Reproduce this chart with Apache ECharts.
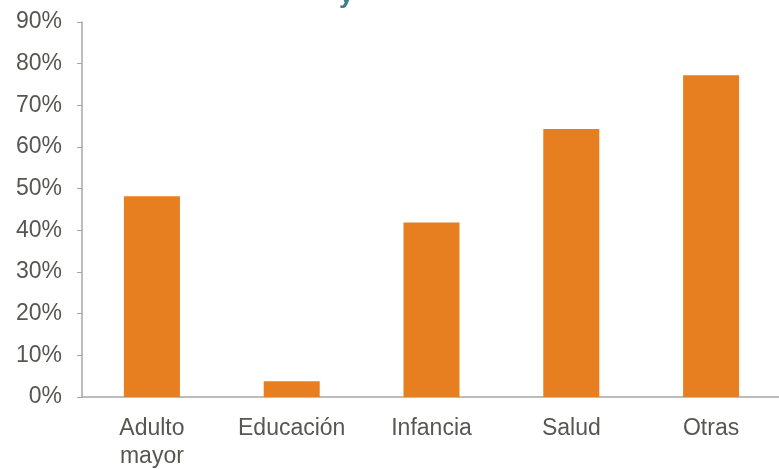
<!DOCTYPE html>
<html>
<head>
<meta charset="utf-8">
<script src="https://cdn.jsdelivr.net/npm/echarts@6/dist/echarts.min.js"></script>
<style>
  html, body { margin: 0; padding: 0; background: #fff; }
  #chart { width: 779px; height: 469px; }
</style>
</head>
<body>
<div id="chart"></div>
<script>
// categorias y valores (%)
const categories = ['Adulto\nmayor', 'Educación', 'Infancia', 'Salud', 'Otras'];
const values = [48.2, 3.8, 41.9, 64.3, 77.2];
const yTicks = [0, 10, 20, 30, 40, 50, 60, 70, 80, 90];

const font = 'Liberation Sans, Arial, sans-serif';
const chart = echarts.init(document.getElementById('chart'));

chart.setOption({
  animation: false,
  // titulo cortado arriba, solo se ve la cola de la "y"
  title: {
    text: 'y',
    left: 334,
    top: -22,
    textStyle: { color: '#3f7f86', fontFamily: font, fontSize: 26, fontWeight: 'bold' }
  },
  grid: {
    left: 82, top: 22, width: 699, bottom: 72,
    containLabel: false, outerBoundsMode: 'none'
  },
  xAxis: {
    type: 'category',
    data: categories,
    axisLine: { lineStyle: { color: '#a6a6a6', width: 1.5 } },
    axisTick: { length: 6, lineStyle: { color: '#a6a6a6' } },
    axisLabel: {
      color: '#575751', fontFamily: font, fontSize: 23, margin: 18, lineHeight: 28
    }
  },
  yAxis: {
    type: 'value',
    min: yTicks[0],
    max: yTicks[yTicks.length - 1],
    interval: 10,
    splitLine: { show: false },
    axisLine: { show: true, lineStyle: { color: '#a6a6a6', width: 1.5 } },
    axisTick: { show: true, length: 5, lineStyle: { color: '#a6a6a6' } },
    axisLabel: {
      color: '#575751', fontFamily: font, fontSize: 23, margin: 20,
      formatter: '{value}%'
    }
  },
  series: [{
    type: 'bar',
    data: values,
    barWidth: 56,
    itemStyle: { color: '#e77e1f' }
  }]
});
</script>
</body>
</html>
